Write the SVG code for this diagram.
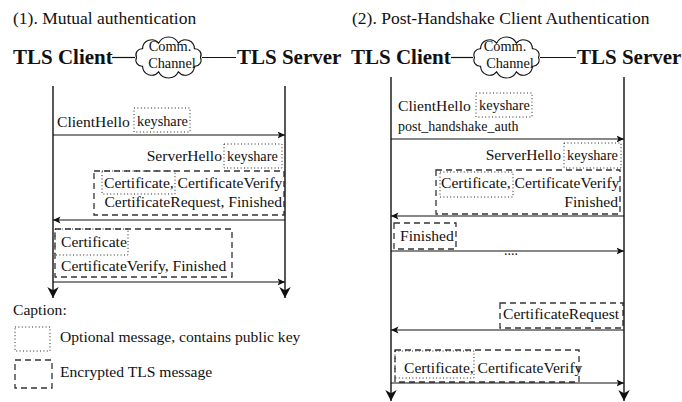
<svg xmlns="http://www.w3.org/2000/svg" width="682" height="402" viewBox="0 0 682 402">
  <style>
    text { font-family: "Liberation Serif", "Times New Roman", serif; fill: #111; }
    .title { font-size: 17.5px; }
    .party { font-size: 21px; font-weight: bold; }
    .cloudtxt { font-size: 14.3px; text-anchor: middle; }
    .msg { font-size: 15.6px; }
    .key { font-size: 14.3px; }
    .small { font-size: 14px; }
    .end { text-anchor: end; }
    .life { stroke: #111; stroke-width: 1.4; fill: none; marker-end: url(#lifeHead); }
    .arrow { stroke: #111; stroke-width: 1.2; fill: none; marker-end: url(#msgHead); }
    .link { stroke: #111; stroke-width: 1.2; fill: none; }
    .cloud { stroke: #111; stroke-width: 1.1; fill: #fff; }
    .dotted { stroke: #222; stroke-width: 1; fill: none; stroke-dasharray: 1 2.4; }
    .dashed { stroke: #333; stroke-width: 1.3; fill: none; stroke-dasharray: 6 4; }
  </style>
  <defs>
    <marker id="msgHead" markerUnits="userSpaceOnUse" markerWidth="10" markerHeight="8" refX="7.5" refY="4" orient="auto">
      <path d="M0,0.6 L7.5,4 L0,7.4 L1.8,4 Z" fill="#111"/>
    </marker>
    <marker id="lifeHead" markerUnits="userSpaceOnUse" markerWidth="13" markerHeight="13" refX="11" refY="6" orient="auto">
      <path d="M0,0.3 L11,6 L0,11.7 L3.2,6 Z" fill="#111"/>
    </marker>
    <path id="cloudShape" d="M32,0 A6.2,6.2 0 0 1 25.9,8.8 A9,9 0 0 1 9.9,14.3 A11,11 0 0 1 -9.9,14.3 A9,9 0 0 1 -25.9,8.8 A6.2,6.2 0 0 1 -32,0 A6.2,6.2 0 0 1 -25.9,-8.8 A9,9 0 0 1 -9.9,-14.3 A11,11 0 0 1 9.9,-14.3 A9,9 0 0 1 25.9,-8.8 A6.2,6.2 0 0 1 32,0 Z"/>
  </defs>

  <!-- panel titles -->
  <text class="title" x="13" y="24">(1). Mutual authentication</text>
  <text class="title" x="352" y="24">(2). Post-Handshake Client Authentication</text>

  <!-- panel 1 parties -->
  <g id="p1-client"><text class="party" x="13" y="64">TLS Client</text></g>
  <g id="p1-server"><text class="party" x="237" y="64">TLS Server</text></g>
  <g id="p1-channel">
    <use href="#cloudShape" class="cloud" transform="translate(168.5,57.5)"/>
    <text class="cloudtxt" x="170" y="51">Comm.</text>
    <text class="cloudtxt" x="172" y="68">Channel</text>
  </g>

  <!-- panel 2 parties -->
  <g id="p2-client"><text class="party" x="351" y="64">TLS Client</text></g>
  <g id="p2-server"><text class="party" x="577" y="64">TLS Server</text></g>
  <g id="p2-channel">
    <use href="#cloudShape" class="cloud" transform="translate(506.5,57.5)"/>
    <text class="cloudtxt" x="505" y="51">Comm.</text>
    <text class="cloudtxt" x="510" y="68">Channel</text>
  </g>

  <!-- panel 1 messages -->
  <g id="p1-clienthello">
    <text class="msg" x="57" y="127">ClientHello</text>
    <rect class="dotted" x="134" y="108" width="56" height="24"/>
    <text class="key" x="137" y="126">keyshare</text>
  </g>
  <g id="p1-serverhello">
    <text class="msg end" x="222" y="161">ServerHello</text>
    <rect class="dotted" x="224" y="144" width="58" height="24"/>
    <text class="key" x="227" y="161">keyshare</text>
    <rect class="dashed" x="94" y="171" width="190" height="44"/>
    <rect class="dotted" x="102" y="171" width="73" height="23"/>
    <text class="msg" x="104" y="188">Certificate, CertificateVerify</text>
    <text class="msg end" x="282" y="207">CertificateRequest, Finished</text>
  </g>
  <g id="p1-clientauth">
    <rect class="dashed" x="55" y="229" width="177" height="48"/>
    <rect class="dotted" x="55" y="229" width="73" height="26"/>
    <text class="msg" x="61" y="247">Certificate</text>
    <text class="msg" x="61" y="271">CertificateVerify, Finished</text>
  </g>

  <!-- panel 2 messages -->
  <g id="p2-clienthello">
    <text class="msg" x="398" y="111">ClientHello</text>
    <rect class="dotted" x="476" y="93" width="56" height="24"/>
    <text class="key" x="479" y="110">keyshare</text>
    <text class="small" x="398" y="131">post_handshake_auth</text>
  </g>
  <g id="p2-serverhello">
    <text class="msg end" x="561" y="160">ServerHello</text>
    <rect class="dotted" x="564" y="143" width="57" height="25"/>
    <text class="key" x="567" y="160">keyshare</text>
    <rect class="dashed" x="436" y="170" width="184" height="44"/>
    <rect class="dotted" x="440" y="172" width="73" height="25"/>
    <text class="msg" x="441" y="188">Certificate, CertificateVerify</text>
    <text class="msg end" x="618" y="207">Finished</text>
  </g>
  <g id="p2-finished">
    <rect class="dashed" x="394" y="223" width="62" height="26"/>
    <text class="msg" x="400" y="241">Finished</text>
    <text class="small" x="511" y="255" text-anchor="middle">....</text>
  </g>
  <g id="p2-certrequest">
    <rect class="dashed" x="500" y="303" width="123" height="25"/>
    <text class="msg" x="503" y="319">CertificateRequest</text>
  </g>
  <g id="p2-clientauth">
    <rect class="dashed" x="395" y="350" width="184" height="32"/>
    <rect class="dotted" x="395" y="351" width="79" height="27"/>
    <text class="msg" x="404" y="373">Certificate, CertificateVerify</text>
  </g>

  <!-- lifelines, channel links and message arrows -->
  <g id="connectors">
    <line class="link" x1="112" y1="57.5" x2="135" y2="57.5"/>
    <line class="link" x1="202" y1="57.5" x2="236" y2="57.5"/>
    <line class="link" x1="451" y1="57.5" x2="473" y2="57.5"/>
    <line class="link" x1="540" y1="57.5" x2="576" y2="57.5"/>

    <line class="life" x1="53" y1="86" x2="53" y2="298"/>
    <line class="life" x1="285" y1="86" x2="285" y2="298"/>
    <line class="life" x1="391" y1="77" x2="391" y2="401"/>
    <line class="life" x1="624" y1="77" x2="624" y2="401"/>

    <line class="arrow" x1="53" y1="135" x2="285" y2="135"/>
    <line class="arrow" x1="285" y1="220" x2="53" y2="220"/>
    <line class="arrow" x1="53" y1="282" x2="285" y2="282"/>

    <line class="arrow" x1="391" y1="139" x2="624" y2="139"/>
    <line class="arrow" x1="624" y1="216" x2="391" y2="216"/>
    <line class="arrow" x1="391" y1="251" x2="624" y2="251"/>
    <line class="arrow" x1="624" y1="330" x2="391" y2="330"/>
    <line class="arrow" x1="391" y1="383" x2="624" y2="383"/>
  </g>

  <!-- legend -->
  <g id="legend">
    <text class="msg" x="13" y="315">Caption:</text>
    <rect class="dotted" x="15" y="327" width="35" height="24"/>
    <text class="msg" x="60" y="342">Optional message, contains public key</text>
    <rect class="dashed" x="15" y="360" width="37" height="28"/>
    <text class="msg" x="60" y="377">Encrypted TLS message</text>
  </g>
</svg>
